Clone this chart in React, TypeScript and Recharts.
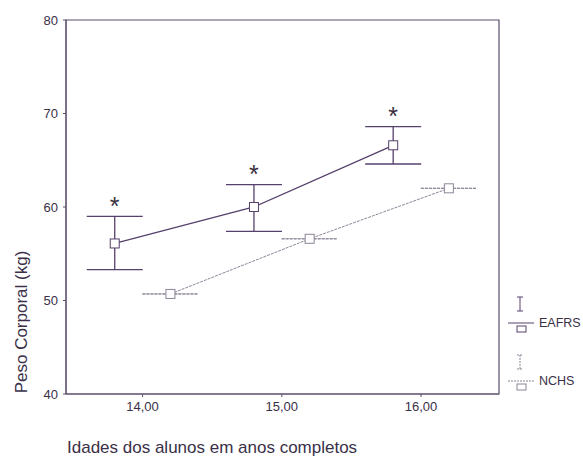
import { ComposedChart, Line, Scatter, XAxis, YAxis, ErrorBar, ReferenceArea } from "recharts";

// idade (anos completos) – deslocada para não sobrepor as séries
const eafrsAge = [13.8, 14.8, 15.8];
const eafrsMean = [56.1, 60.0, 66.6];
const eafrsLow = [53.3, 57.4, 64.6];
const eafrsHigh = [59.0, 62.4, 68.6];

const nchsAge = [14.2, 15.2, 16.2];
const nchsMean = [50.7, 56.6, 62.0];

const xTicks = [14, 15, 16];
const yTicks = [40, 50, 60, 70, 80];
const xDomain = [13.45, 16.56];
const yDomain = [40, 80];

const FONT = '"Liberation Sans", Arial, sans-serif';
const AXIS = "#5b4e6b";
const TEXT = "#3a3048";
const EAFRS_COLOR = "#56406c";
const NCHS_COLOR = "#8d8597";

const eafrsData = eafrsAge.map((age, i) => ({
  age,
  peso: eafrsMean[i],
  err: [eafrsMean[i] - eafrsLow[i], eafrsHigh[i] - eafrsMean[i]],
}));

const nchsData = nchsAge.map((age, i) => ({ age, peso: nchsMean[i], err: [0, 0] }));

// asterisco logo acima do limite superior
const starData = eafrsAge.map((age, i) => ({ age, peso: eafrsHigh[i] + 1.1 }));

const SquareDot = (color: string) => (props: any) => {
  const { cx, cy, index } = props;
  if (cx == null || cy == null) return null;
  return <rect key={index} x={cx - 4.5} y={cy - 4.5} width={9} height={9} fill="#fff" stroke={color} strokeWidth={1} />;
};

const Star = (props: any) => {
  const { cx, cy } = props;
  return (
    <text x={cx} y={cy} dy={9} textAnchor="middle" fontFamily={FONT} fontSize={25} fill="#3a3040">
      *
    </text>
  );
};

function LegendBox() {
  const item = (name: string, color: string, dashed: boolean) => (
    <div style={{ display: "flex", alignItems: "flex-end", height: 48 }}>
      <svg width={30} height={48}>
        <g stroke={color} strokeWidth={1} strokeDasharray={dashed ? "2 1" : undefined}>
          <line x1={9} x2={15} y1={12} y2={12} />
          <line x1={12} x2={12} y1={12} y2={26} />
          <line x1={9} x2={15} y1={26} y2={26} />
          <line x1={0} x2={26} y1={38} y2={38} />
        </g>
        <rect x={9} y={41} width={9} height={6} fill="#fff" stroke={color} />
      </svg>
      <span style={{ fontFamily: FONT, fontSize: 12.5, color: TEXT, marginLeft: 1, marginBottom: 3 }}>{name}</span>
    </div>
  );
  return (
    <div style={{ position: "absolute", left: 508, top: 285, display: "flex", flexDirection: "column", gap: 10 }}>
      {item("EAFRS", EAFRS_COLOR, false)}
      {item("NCHS", NCHS_COLOR, true)}
    </div>
  );
}

export default function App() {
  return (
    <div style={{ position: "absolute", left: 0, top: 0, width: 583, height: 459, background: "#fff" }}>
      <ComposedChart width={583} height={459} margin={{ top: 20, right: 84, bottom: 0, left: 0 }}>
        <XAxis
          dataKey="age"
          type="number"
          domain={xDomain}
          ticks={xTicks}
          allowDuplicatedCategory={false}
          tickFormatter={(v: number) => v.toFixed(2).replace(".", ",")}
          tick={{ fontFamily: FONT, fontSize: 13, fill: TEXT }}
          tickSize={3}
          tickMargin={5}
          stroke={AXIS}
          height={65}
          label={{
            content: () => (
              <text x={67} y={453} fontFamily={FONT} fontSize={17} fill={TEXT}>
                Idades dos alunos em anos completos
              </text>
            ),
          }}
        />
        <YAxis
          type="number"
          domain={yDomain}
          ticks={yTicks}
          tick={{ fontFamily: FONT, fontSize: 13, fill: TEXT }}
          tickSize={3}
          tickMargin={5}
          stroke={AXIS}
          width={66}
          label={{
            content: () => (
              <text
                x={21}
                y={322}
                transform="rotate(-90, 21, 322)"
                textAnchor="middle"
                dominantBaseline="central"
                fontFamily={FONT}
                fontSize={17}
                fill={TEXT}
              >
                Peso Corporal (kg)
              </text>
            ),
          }}
        />
        <ReferenceArea x1={xDomain[0]} x2={xDomain[1]} y1={yDomain[0]} y2={yDomain[1]} fill="none" stroke={AXIS} strokeWidth={1.2} />
        <Line
          data={nchsData}
          dataKey="peso"
          name="NCHS"
          stroke={NCHS_COLOR}
          strokeWidth={1}
          strokeDasharray="3 1"
          dot={SquareDot(NCHS_COLOR)}
          activeDot={false}
          isAnimationActive={false}
        >
          <ErrorBar dataKey="err" width={28} stroke={NCHS_COLOR} strokeWidth={1} strokeDasharray="3 1" direction="y" />
        </Line>
        <Line
          data={eafrsData}
          dataKey="peso"
          name="EAFRS"
          stroke={EAFRS_COLOR}
          strokeWidth={1.3}
          dot={SquareDot(EAFRS_COLOR)}
          activeDot={false}
          isAnimationActive={false}
        >
          <ErrorBar dataKey="err" width={28} stroke={EAFRS_COLOR} strokeWidth={1.3} direction="y" />
        </Line>
        <Scatter data={starData} dataKey="peso" shape={Star} legendType="none" isAnimationActive={false} />
      </ComposedChart>
      <LegendBox />
    </div>
  );
}
